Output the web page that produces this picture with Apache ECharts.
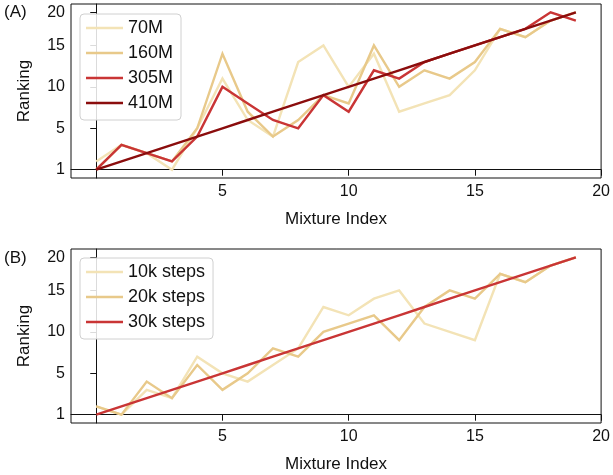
<!DOCTYPE html>
<html>
<head>
<meta charset="utf-8">
<script src="https://cdn.jsdelivr.net/npm/echarts@6/dist/echarts.min.js"></script>
<style>
html,body{margin:0;padding:0;background:#fff;}
#c{width:613px;height:475px;}
</style>
</head>
<body>
<div id="c"></div>
<script>
// Mixture index (x) and rank position (0-based, shown as 1..20)
const mixtureIndex = [0,1,2,3,4,5,6,7,8,9,10,11,12,13,14,15,16,17,18,19];

// Panel A: model size
const seriesA_names = ['70M','160M','305M','410M'];
const rank70M  = [1,3,2,0,5,11,6,4,13,15,10,14,7,8,9,12,17,16,18,19];
const rank160M = [0,3,2,1,5,14,7,4,6,9,8,15,10,12,11,13,17,16,18,19];
const rank305M = [0,3,2,1,4,10,8,6,5,9,7,12,11,13,14,15,16,17,19,18];
const rank410M = [0,1,2,3,4,5,6,7,8,9,10,11,12,13,14,15,16,17,18,19];

// Panel B: training steps
const seriesB_names = ['10k steps','20k steps','30k steps'];
const rank10k = [1,0,3,2,7,5,4,6,8,13,12,14,15,11,10,9,17,16,18,19];
const rank20k = [1,0,4,2,6,3,5,8,7,10,11,12,9,13,15,14,17,16,18,19];
const rank30k = [0,1,2,3,4,5,6,7,8,9,10,11,12,13,14,15,16,17,18,19];

// Tick positions and labels
const yTickPos = [0,5,10,15,19];
const yTickLabels = ['1','5','10','15','20'];
const xTickPos = [5,10,15,20];
const xTickLabels = ['5','10','15','20'];

const colPale = '#f3e3b6';
const colTan = '#e8c98a';
const colRed = '#c93535';
const colDark = '#8b0d0d';

const FONT = 'Liberation Sans, Arial, Helvetica, sans-serif';

function pairs(arr){ return mixtureIndex.map((x,i)=>[x, arr[i]]); }

function mkX(gi){
  return {
    type:'value', gridIndex:gi, min:-1, max:20,
    name:'Mixture Index', nameLocation:'middle', nameGap:33,
    nameTextStyle:{fontFamily:FONT, fontSize:17, color:'#111'},
    splitLine:{show:false},
    axisLine:{show:true, lineStyle:{color:'#111', width:1}},
    axisTick:{show:true, inside:false, length:6, customValues:xTickPos, lineStyle:{color:'#111'}},
    axisLabel:{show:true, customValues:xTickPos, margin:6, fontFamily:FONT, fontSize:16, color:'#111',
      formatter:v=>xTickLabels[xTickPos.indexOf(v)]}
  };
}
function mkY(gi){
  return {
    type:'value', gridIndex:gi, min:-1, max:20,
    name:'Ranking', nameLocation:'middle', nameGap:38, nameRotate:90,
    nameTextStyle:{fontFamily:FONT, fontSize:17, color:'#111'},
    splitLine:{show:false},
    axisLine:{show:true, lineStyle:{color:'#111', width:1}},
    axisTick:{show:true, inside:false, length:6, customValues:yTickPos, lineStyle:{color:'#111'}},
    axisLabel:{show:true, customValues:yTickPos, margin:6, fontFamily:FONT, fontSize:16, color:'#111',
      formatter:v=>yTickLabels[yTickPos.indexOf(v)]}
  };
}
function line(name, data, color, gi){
  return {
    type:'line', name:name, xAxisIndex:gi, yAxisIndex:gi, data:pairs(data),
    symbol:'none', showSymbol:false, animation:false,
    lineStyle:{color:color, width:2.4, join:'miter'}, itemStyle:{color:color}
  };
}

const legendBase = {
  orient:'vertical', left:80, icon:'rect', itemWidth:37, itemHeight:2.5,
  itemGap:7, itemTextGap:13,
  backgroundColor:'rgba(255,255,255,0.85)', borderColor:'#d0d0d0', borderWidth:1, borderRadius:4,
  padding:[5,8,8,6],
  textStyle:{fontFamily:FONT, fontSize:18, color:'#111', lineHeight:18}
};

const chart = echarts.init(document.getElementById('c'), null, {renderer:'canvas'});
chart.setOption({
  animation:false,
  backgroundColor:'#fff',
  grid:[
    {left:71, right:9, top:4, height:174, show:true, borderColor:'#111', borderWidth:1, backgroundColor:'transparent'},
    {left:71, right:9, top:249, height:174, show:true, borderColor:'#111', borderWidth:1, backgroundColor:'transparent'}
  ],
  xAxis:[mkX(0), mkX(1)],
  yAxis:[mkY(0), mkY(1)],
  legend:[
    Object.assign({}, legendBase, {top:14, data:seriesA_names}),
    Object.assign({}, legendBase, {top:258, data:seriesB_names})
  ],
  series:[
    line(seriesA_names[0], rank70M, colPale, 0),
    line(seriesA_names[1], rank160M, colTan, 0),
    line(seriesA_names[2], rank305M, colRed, 0),
    line(seriesA_names[3], rank410M, colDark, 0),
    line(seriesB_names[0], rank10k, colPale, 1),
    line(seriesB_names[1], rank20k, colTan, 1),
    line(seriesB_names[2], rank30k, colRed, 1)
  ],
  graphic:[
    {type:'text', left:4, top:4, style:{text:'(A)', fontFamily:FONT, fontSize:17, fill:'#111'}},
    {type:'text', left:4, top:250, style:{text:'(B)', fontFamily:FONT, fontSize:17, fill:'#111'}}
  ]
});
</script>
</body>
</html>
